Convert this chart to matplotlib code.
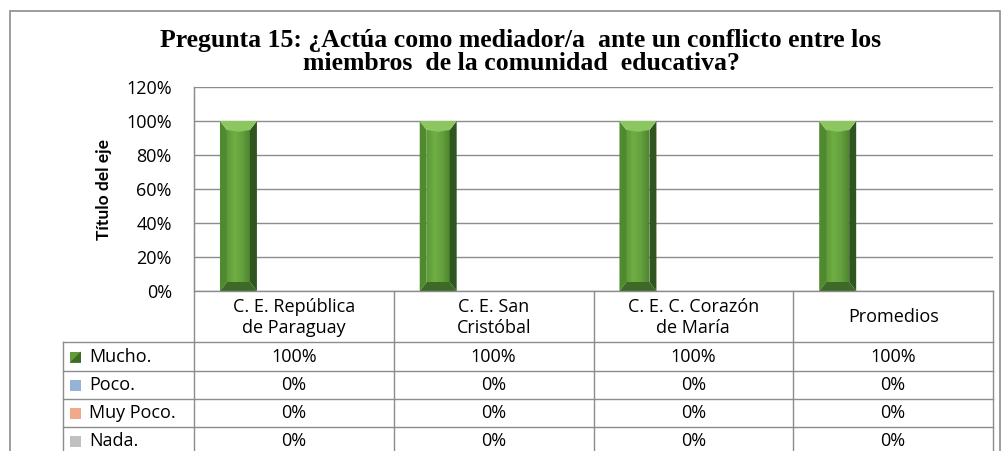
import matplotlib
matplotlib.use("Agg")
import matplotlib.pyplot as plt
from matplotlib.patches import Polygon, Rectangle
from matplotlib.lines import Line2D
import numpy as np

# ---------------- datos ----------------
categorias = ["C. E. República\nde Paraguay", "C. E. San\nCristóbal",
              "C. E. C. Corazón\nde María", "Promedios"]
series = ["Mucho.", "Poco.", "Muy Poco.", "Nada."]
mucho = [100, 100, 100, 100]
poco = [0, 0, 0, 0]
muy_poco = [0, 0, 0, 0]
nada = [0, 0, 0, 0]
colores = ["#5f9b38", "#95b3d7", "#f2a98a", "#c0c0c0"]
yticks = [0, 20, 40, 60, 80, 100, 120]
titulo = "Pregunta 15: ¿Actúa como mediador/a  ante un conflicto entre los\nmiembros  de la comunidad  educativa?"

W, H = 1005, 451
fig = plt.figure(figsize=(W / 100, H / 100), dpi=100)
GRIS = "#8c8c8c"
SANS = "Open Sans"
FS = 13

# marco exterior del grafico
fig.add_artist(Rectangle((10 / W, -0.05), 990 / W, 1.05 - 11 / H, transform=fig.transFigure,
                         fill=False, edgecolor=GRIS, lw=1.2))

# ejes del grafico (pixeles 194..993, 87..291)
x0, x1, ytop, ybot = 194, 993, 87, 291
ax = fig.add_axes([x0 / W, 1 - ybot / H, (x1 - x0) / W, (ybot - ytop) / H])
n = len(categorias)
ax.set_xlim(-0.5, n - 0.5)
ax.set_ylim(0, 120)
ax.set_yticks(yticks)
ax.set_yticklabels([f"{v}%" for v in yticks], fontsize=FS, family=SANS)
ax.tick_params(axis="y", length=0, pad=16)
ax.set_xticks([])
for s in ["top", "right", "bottom"]:
    ax.spines[s].set_visible(False)
ax.spines["left"].set_color(GRIS)
ax.grid(axis="y", color=GRIS, lw=1)
ax.set_axisbelow(True)
ax.set_ylabel("Título del eje", fontsize=12.5, family="Lato", fontweight="bold", labelpad=10)

# barras con bisel
ancho = 0.185
datos = [mucho, poco, muy_poco, nada]
px_x = (x1 - x0) / n          # pixeles por unidad x
px_y = (ybot - ytop) / 120.0  # pixeles por unidad y
bx = 7 / px_x
by = 9 / px_y


def barra_bisel(xc, h, w):
    if h <= 0:
        return
    a, b = xc - w / 2, xc + w / 2
    # cara frontal con degradado
    grad = np.linspace(0, 1, 64).reshape(1, -1)
    cmap = matplotlib.colors.LinearSegmentedColormap.from_list(
        "g", ["#5f9a38", "#6fae45", "#64a03c", "#4f8630"])
    im = ax.imshow(grad, extent=[a + bx, b - bx, by, h - by], aspect="auto",
                   cmap=cmap, zorder=3, interpolation="bilinear")
    cara = Polygon([(a + bx, by), (b - bx, by), (b - bx, h - by), (a + bx, h - by)],
                   closed=True, facecolor="none", edgecolor="none", zorder=3)
    ax.add_patch(cara)
    im.set_clip_path(cara)
    ax.add_patch(Polygon([(a, 0), (a + bx, by), (a + bx, h - by), (a, h)],
                         facecolor="#4f8a2f", edgecolor="none", zorder=3))
    ax.add_patch(Polygon([(b, 0), (b - bx, by), (b - bx, h - by), (b, h)],
                         facecolor="#2f5520", edgecolor="none", zorder=3))
    ax.add_patch(Polygon([(a, h), (b, h), (b - bx, h - by), (xc, h - by * 1.2), (a + bx, h - by)],
                         facecolor="#8cc660", edgecolor="none", zorder=3))
    ax.add_patch(Polygon([(a, 0), (b, 0), (b - bx, by), (a + bx, by)],
                         facecolor="#3d6a27", edgecolor="none", zorder=3))


for k, vals in enumerate(datos):
    for i, v in enumerate(vals):
        barra_bisel(i + (k - 1.5) * ancho, v, ancho)

# titulo
fig.text(521 / W, 1 - 52 / H, titulo, ha="center", va="center", fontsize=18.5,
         family="Liberation Serif", fontweight="bold", linespacing=1.05)

# ---------------- tabla de datos ----------------
tx = fig.add_axes([0, 0, 1, 1])
tx.set_xlim(0, W)
tx.set_ylim(H, 0)
tx.axis("off")
tx.patch.set_alpha(0)

cols = [x0 + i * (x1 - x0) / n for i in range(n + 1)]
filas = [291, 342, 371, 399, 427, 470]
leg_x = 63

# lineas verticales
for c in cols:
    tx.add_line(Line2D([c, c], [ytop if c == x0 else filas[0], H + 5], color=GRIS, lw=1))
tx.add_line(Line2D([leg_x, leg_x], [filas[1], H + 5], color=GRIS, lw=1))
# lineas horizontales
tx.add_line(Line2D([x0, x1], [filas[0], filas[0]], color=GRIS, lw=1))
for f in filas[1:5]:
    tx.add_line(Line2D([leg_x, x1], [f, f], color=GRIS, lw=1))

# encabezados
for i, cat in enumerate(categorias):
    tx.text((cols[i] + cols[i + 1]) / 2, (filas[0] + filas[1]) / 2 + 1, cat, ha="center",
            va="center", fontsize=FS, family=SANS, linespacing=1.25)

# filas de valores
for k, (nombre, vals) in enumerate(zip(series, datos)):
    yc = (filas[k + 1] + filas[k + 2]) / 2 if k < 3 else 441
    tx.add_patch(Rectangle((70, yc - 5), 11, 11, facecolor=colores[k], edgecolor="none"))
    if k == 0:
        tx.add_patch(Polygon([(70, yc + 6), (81, yc - 5), (81, yc + 6)],
                             facecolor="#3d6a27", edgecolor="none"))
    tx.text(89, yc, nombre, ha="left", va="center", fontsize=FS, family=SANS)
    for i, v in enumerate(vals):
        tx.text((cols[i] + cols[i + 1]) / 2, yc, f"{v}%", ha="center", va="center",
                fontsize=FS, family=SANS)

fig.savefig("out.png", dpi=100)
